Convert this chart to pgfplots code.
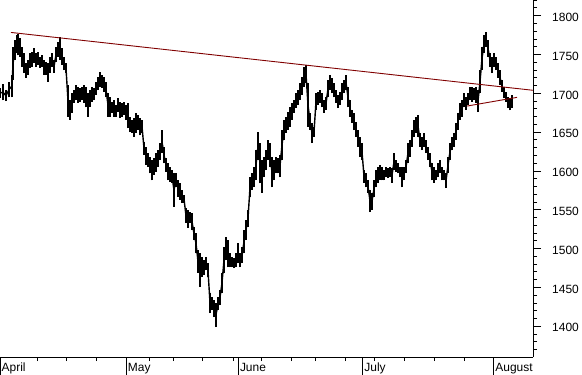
\documentclass[border=0pt]{standalone}
\usepackage{fontspec}
\setmainfont{Liberation Sans}
\usepackage{pgfplots}
\usepackage{pgfplotstable}
\pgfplotsset{compat=1.18}
\definecolor{trend}{RGB}{128,0,0}
\pgfplotstableread{
x lo hi
0 1694 1707
3 1691 1712
6 1690 1704
9 1695 1715
12 1695 1724
13 1717 1760
15 1743 1769
17 1752 1775
18 1749 1776
20 1747 1771
22 1734 1760
24 1726 1752
26 1720 1739
28 1724 1743
30 1733 1752
32 1734 1753
34 1739 1758
36 1734 1752
38 1737 1753
40 1733 1747
42 1734 1749
44 1724 1743
46 1724 1740
48 1715 1739
50 1726 1747
52 1734 1752
54 1726 1743
56 1740 1760
58 1747 1766
60 1743 1773
62 1737 1758
64 1730 1747
66 1726 1739
68 1670 1711
70 1666 1691
72 1675 1700
74 1688 1704
76 1691 1711
78 1688 1708
80 1689 1707
82 1691 1708
84 1688 1711
86 1682 1708
88 1670 1700
90 1682 1704
92 1689 1708
94 1691 1707
96 1698 1715
98 1704 1721
100 1708 1728
102 1707 1724
104 1702 1721
106 1695 1715
108 1670 1700
110 1670 1695
112 1675 1689
114 1670 1691
116 1670 1685
118 1676 1694
120 1668 1689
122 1670 1688
124 1672 1689
126 1666 1685
128 1655 1688
130 1650 1670
132 1649 1666
134 1644 1668
136 1649 1675
138 1653 1672
140 1646 1668
142 1649 1666
144 1621 1637
146 1608 1631
148 1605 1623
150 1597 1618
152 1588 1614
154 1595 1617
156 1599 1623
158 1605 1627
160 1614 1636
162 1623 1653
164 1610 1631
166 1599 1617
168 1588 1610
170 1586 1605
172 1585 1601
174 1554 1597
176 1579 1597
178 1567 1588
180 1563 1585
182 1559 1576
184 1559 1569
186 1533 1552
188 1527 1550
190 1533 1547
192 1524 1546
194 1511 1528
196 1494 1520
198 1469 1498
200 1451 1494
202 1463 1489
204 1466 1485
206 1472 1489
208 1463 1481
210 1417 1443
212 1421 1438
214 1412 1434
216 1399 1430
218 1421 1438
220 1427 1447
222 1443 1469
224 1469 1502
226 1485 1515
228 1476 1511
230 1476 1494
232 1476 1489
234 1475 1488
236 1476 1494
238 1481 1507
240 1476 1494
242 1481 1502
244 1494 1524
246 1511 1537
248 1528 1550
250 1566 1592
252 1576 1597
254 1579 1605
256 1588 1627
258 1614 1650
260 1584 1636
262 1572 1614
264 1592 1618
266 1601 1627
268 1614 1640
270 1605 1636
272 1579 1618
274 1588 1614
276 1597 1618
278 1597 1617
280 1592 1621
282 1614 1653
284 1640 1666
286 1649 1670
288 1653 1676
290 1657 1682
292 1666 1688
294 1675 1691
296 1681 1700
298 1685 1704
300 1691 1713
302 1698 1721
304 1708 1734
306 1713 1737
308 1657 1713
310 1653 1675
312 1636 1662
314 1644 1657
316 1679 1700
318 1685 1702
320 1688 1704
322 1682 1700
324 1675 1691
326 1679 1695
328 1695 1717
330 1704 1724
332 1700 1720
334 1695 1713
336 1688 1704
338 1681 1698
340 1685 1702
342 1691 1713
344 1700 1717
346 1704 1724
348 1682 1708
350 1670 1691
352 1662 1679
354 1653 1675
356 1644 1663
358 1631 1653
360 1618 1644
362 1614 1636
364 1585 1601
366 1579 1597
368 1572 1588
370 1547 1576
372 1550 1572
374 1567 1588
376 1579 1601
378 1585 1605
380 1588 1608
382 1588 1605
384 1588 1601
386 1592 1605
388 1591 1604
390 1592 1605
392 1585 1604
394 1601 1623
396 1599 1614
398 1597 1610
400 1592 1605
402 1579 1605
404 1588 1605
406 1597 1614
408 1610 1636
410 1618 1640
412 1631 1653
414 1644 1666
416 1649 1670
418 1644 1672
420 1631 1649
422 1627 1644
424 1631 1649
426 1623 1640
428 1614 1631
430 1605 1623
432 1588 1610
434 1585 1605
436 1588 1601
438 1592 1610
440 1597 1614
442 1588 1605
444 1588 1601
446 1578 1597
448 1597 1618
450 1614 1636
452 1627 1644
454 1631 1649
456 1640 1662
458 1653 1675
460 1666 1688
462 1670 1691
464 1682 1700
466 1679 1695
468 1685 1700
470 1691 1708
472 1689 1708
474 1691 1707
476 1688 1708
478 1676 1704
480 1700 1730
482 1730 1760
484 1752 1775
486 1760 1779
488 1747 1769
490 1734 1752
492 1726 1747
494 1734 1752
496 1730 1747
498 1720 1739
500 1711 1730
502 1702 1717
504 1694 1708
506 1689 1702
508 1681 1695
510 1678 1694
512 1681 1698
}\pricedata
\begin{document}
\begin{tikzpicture}
\begin{axis}[name=ax, at={(0,0)}, anchor=south west,
  width=533bp, height=357bp, scale only axis,
  xmin=0, xmax=533, ymin=1360.5, ymax=1820.3,
  axis x line*=bottom, axis y line*=right,
  axis line style={black, line width=1bp},
  tick align=outside,
  major tick length=4bp,
  tick style={black, line width=1bp},
  xtick={37.1,66.8,96.5,149.2,173.7,202.7,233.1,261.7,291.8,315.5,345.2,374.2,404.6,434.3,464.0},
  xticklabels={},
  ytick={1370,1380,...,1820},
  yticklabels={},
  extra x ticks={0,126.2,238.3,362.7,493.7},
  extra x tick labels={April,May,June,July,August},
  extra x tick style={major tick length=18bp,
    xticklabel style={anchor=base west, inner sep=0pt, xshift=1.5bp, yshift=3.5bp}},
  extra y ticks={1400,1450,...,1800},
  extra y tick style={major tick length=8bp,
    yticklabel style={anchor=west, inner sep=0pt, xshift=11bp, yshift=-1.5bp}},
  tick label style={font=\fontsize{12}{14}\selectfont, black},
  /pgf/number format/assume math mode=true,
  /pgf/number format/1000 sep={},
]
\addplot[draw=none, mark=none, forget plot,
  error bars/.cd, y dir=plus, y explicit, error mark=none,
  error bar style={draw=black, line width=2.2bp, solid}]
  table[x=x, y=lo, y error plus expr=\thisrow{hi}-\thisrow{lo}] {\pricedata};
\addplot[black, line width=1.4bp, mark=none] table[x=x, y expr=(\thisrow{lo}+\thisrow{hi})/2] {\pricedata};
\addplot[trend, line width=0.9bp, mark=none] coordinates {(11,1778.5) (533,1704)};
\addplot[trend, line width=0.9bp, mark=none] coordinates {(467,1683.7) (517,1694.9)};
\end{axis}
\pgfresetboundingbox
\path ([yshift=-18bp]ax.south west) rectangle ([xshift=49bp]ax.north east);
\end{tikzpicture}
\end{document}
